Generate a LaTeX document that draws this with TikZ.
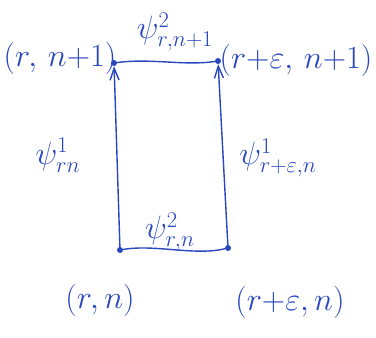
\documentclass[tikz,border=0pt]{standalone}
\usetikzlibrary{arrows.meta}
\definecolor{ink}{RGB}{40,70,190}
\begin{document}
\begin{tikzpicture}[x=1pt,y=-1pt,
  ink/.style={draw=ink,line width=1.4pt,line cap=round},
  lbl/.style={text=ink,inner sep=0pt,scale=1.3,font=\fontsize{24}{28}\selectfont},
  dot/.style={circle,fill=ink,inner sep=0pt,minimum size=6pt},
  arr/.style={ink,-{Straight Barb[length=12pt,width=9pt]}}]
\useasboundingbox (0,0) rectangle (376,338);
\node[dot] (tl) at (114,63) {};
\node[dot] (tr) at (218,61) {};
\node[dot] (bl) at (120,250) {};
\node[dot] (br) at (228,248) {};
\draw[ink] (tl) .. controls (150,58) and (185,66) .. (tr);
\draw[ink] (bl) .. controls (155,244) and (195,256) .. (br);
\draw[arr] (bl) -- (tl);
\draw[arr] (br) -- (tr);
\node[lbl] (ltl) at (60,58) {$(r,\,n{+}1)$};
\node[lbl] (ltr) at (296,60) {$(r{+}\varepsilon,\,n{+}1)$};
\node[lbl] (ltop) at (175,32) {$\psi^{2}_{r,n+1}$};
\node[lbl] (lleft) at (58,155) {$\psi^{1}_{rn}$};
\node[lbl] (lright) at (278,158) {$\psi^{1}_{r+\varepsilon,n}$};
\node[lbl] (lbot) at (170,232) {$\psi^{2}_{r,n}$};
\node[lbl] (lrn) at (100,300) {$(r,n)$};
\node[lbl] (lren) at (290,302) {$(r{+}\varepsilon,n)$};
\end{tikzpicture}
\end{document}
